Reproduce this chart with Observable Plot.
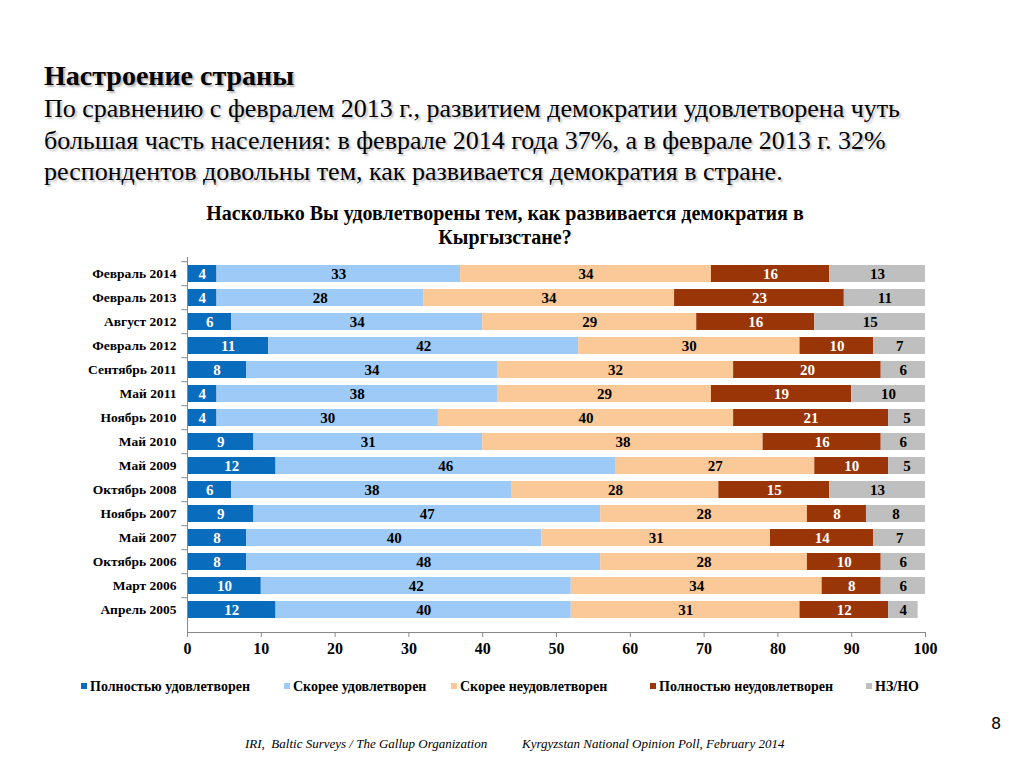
<!DOCTYPE html>
<html>
<head>
<meta charset="utf-8">
<script src="https://cdn.jsdelivr.net/npm/d3@7"></script>
<script src="https://cdn.jsdelivr.net/npm/@observablehq/plot@0.6"></script>
<style>
  html, body { margin: 0; padding: 0; background: #fff; }
  body { width: 1024px; height: 768px; position: relative; overflow: hidden; }
  .abs { position: absolute; white-space: nowrap; font-family: "Liberation Serif", "Times New Roman", serif; }
  #h1 { left: 44px; top: 61px; font-size: 28px; line-height: 30px; font-weight: bold; text-shadow: 2px 2px 2px rgba(0,0,0,0.3); }
  #sub { left: 44px; top: 93px; font-size: 26px; line-height: 31.7px; text-shadow: 2px 2px 2px rgba(0,0,0,0.25); }
  #ctitle { left: 0; width: 1010px; top: 201px; text-align: center; font-size: 20px; font-weight: bold; line-height: 24px; }
  #chart { left: 0; top: 250px; }
  .leg { top: 679px; font-size: 14px; font-weight: bold; }
  .leg i { display: inline-block; width: 6px; height: 6px; margin-right: 3px; vertical-align: 2px; }
  .foot { top: 736px; font-size: 13px; font-style: italic; }
  #pnum { left: 991px; top: 714px; font-family: "DejaVu Sans", sans-serif; font-size: 16px; }
</style>
</head>
<body>
<div id="h1" class="abs">Настроение страны</div>
<div id="sub" class="abs">По сравнению с февралем 2013 г., развитием демократии удовлетворена чуть<br>большая часть населения: в феврале 2014 года 37%, а в феврале 2013 г. 32%<br>респондентов довольны тем, как развивается демократия в стране.</div>
<div id="ctitle" class="abs">Насколько Вы удовлетворены тем, как развивается демократия в<br>Кыргызстане?</div>
<div id="chart" class="abs"></div>
<div id="legend"></div>
<div class="abs foot" style="left:245px">IRI,&nbsp; Baltic Surveys / The Gallup Organization</div>
<div class="abs foot" style="left:522px">Kyrgyzstan National Opinion Poll, February 2014</div>
<div id="pnum" class="abs">8</div>
<script>
const dates = ["Февраль 2014","Февраль 2013","Август 2012","Февраль 2012","Сентябрь 2011","Май 2011","Ноябрь 2010","Май 2010","Май 2009","Октябрь 2008","Ноябрь 2007","Май 2007","Октябрь 2006","Март 2006","Апрель 2005"];
const series = ["Полностью удовлетворен","Скорее удовлетворен","Скорее неудовлетворен","Полностью неудовлетворен","НЗ/НО"];
const fullySatisfied   = [4,4,6,11,8,4,4,9,12,6,9,8,8,10,12];
const ratherSatisfied  = [33,28,34,42,34,38,30,31,46,38,47,40,48,42,40];
const ratherUnsatisfied= [34,34,29,30,32,29,40,38,27,28,28,31,28,34,31];
const fullyUnsatisfied = [16,23,16,10,20,19,21,16,10,15,8,14,10,8,12];
const dkNa             = [13,11,15,7,6,10,5,6,5,13,8,7,6,6,4];
const xTicks = [0,10,20,30,40,50,60,70,80,90,100];
const colors = ["#0a6cbc","#9dcaf6","#fbc898","#993506","#bfbfbf"];
const labelColors = ["#fff","#000","#000","#fff","#000"];

const valuesBySeries = [fullySatisfied, ratherSatisfied, ratherUnsatisfied, fullyUnsatisfied, dkNa];
const data = [];
dates.forEach((d, i) => series.forEach((s, j) => data.push({date: d, series: s, value: valuesBySeries[j][i], lc: labelColors[j]})));

const font = '"Liberation Serif", "Times New Roman", serif';
const step = (376 - 7) / dates.length;

const chart = Plot.plot({
  width: 1024,
  height: 420,
  marginLeft: 187,
  marginRight: 99,
  marginTop: 7,
  marginBottom: 38,
  style: {fontFamily: font, fontWeight: "bold", background: "transparent", color: "#000"},
  x: {domain: [0, 100], axis: null},
  y: {domain: dates, range: [7, 376], paddingInner: 0.3, paddingOuter: 0.15, axis: null},
  color: {domain: series, range: colors},
  marks: [
    Plot.barX(data, Plot.stackX({x: "value", y: "date", z: "series", fill: "series"})),
    Plot.text(data, Plot.stackX({x: "value", y: "date", z: "series", text: "value", fill: "lc", fontSize: 15, fontWeight: "bold"})),
    Plot.ruleX([0], {stroke: "#888"}),
    Plot.frame({anchor: "bottom", stroke: "#888"}),
    Plot.axisY({tickSize: 0, tickPadding: 11, fontSize: 13.5, fontWeight: "bold", label: null}),
    Plot.ruleY(dates, {y: d => d, x1: -0.75, x2: 0, dy: -step / 2, stroke: "#888"}),
    Plot.axisX({ticks: xTicks, tickSize: 5, tickPadding: 5, fontSize: 16, fontWeight: "bold", stroke: "#888", label: null})
  ]
});
document.getElementById("chart").appendChild(chart);

const legX = [81, 284, 451, 650, 866];
const legend = document.getElementById("legend");
series.forEach((s, i) => {
  const el = document.createElement("div");
  el.className = "abs leg";
  el.style.left = legX[i] + "px";
  el.innerHTML = `<i style="background:${colors[i]}"></i>${s}`;
  legend.appendChild(el);
});
</script>
</body>
</html>
